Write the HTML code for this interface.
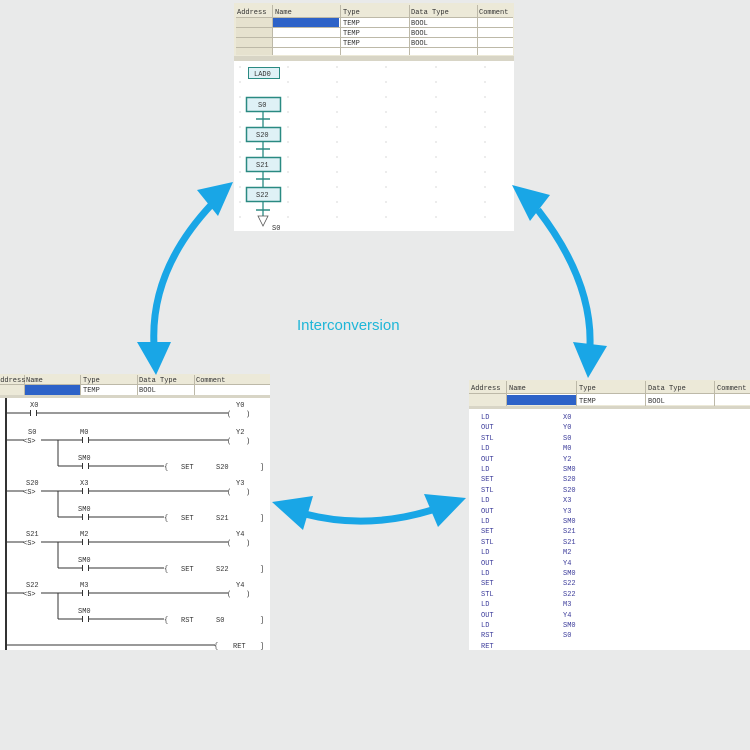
<!DOCTYPE html>
<html><head><meta charset="utf-8"><style>
html,body{margin:0;padding:0;background:#e9eaea;}
svg{display:block}
text{font-family:"Liberation Mono",monospace;font-size:7px;fill:#333;white-space:pre}
.b text{fill:#3b3b9a}
</style></head><body>
<svg width="750" height="750" viewBox="0 0 750 750" xmlns="http://www.w3.org/2000/svg" xml:space="preserve">
<rect width="750" height="750" fill="#e9eaea"/>

<!-- TOP PANEL -->
<rect x="234" y="3" width="280" height="228" fill="#fff"/>
<rect x="234" y="3" width="280" height="56" fill="#ece9d8"/>
<rect x="236" y="17" width="36" height="38" fill="#e6e2cf"/>
<rect x="272" y="17" width="241" height="38" fill="#fff"/>
<rect x="273" y="18" width="66" height="9" fill="#2d62c8"/>
<g stroke="#bdb9a8" stroke-width="1">
<line x1="236" y1="17.5" x2="513" y2="17.5"/><line x1="236" y1="27.5" x2="513" y2="27.5"/><line x1="236" y1="37.5" x2="513" y2="37.5"/><line x1="236" y1="47.5" x2="513" y2="47.5"/>
<line x1="272.5" y1="5" x2="272.5" y2="55"/><line x1="340.5" y1="5" x2="340.5" y2="55"/><line x1="409.5" y1="5" x2="409.5" y2="55"/><line x1="477.5" y1="5" x2="477.5" y2="55"/>
</g>
<rect x="234" y="56" width="280" height="5" fill="#d8d5c6"/>
<rect x="234" y="61" width="280" height="170" fill="#fff"/>
<text x="237" y="14">Address</text><text x="275" y="14">Name</text><text x="343" y="14">Type</text><text x="411" y="14">Data Type</text><text x="479" y="14">Comment</text>
<text x="343" y="25">TEMP</text><text x="411" y="25">BOOL</text>
<text x="343" y="35">TEMP</text><text x="411" y="35">BOOL</text>
<text x="343" y="45">TEMP</text><text x="411" y="45">BOOL</text>
<g fill="#bbb">
<circle cx="240" cy="67" r=".6"/><circle cx="288" cy="67" r=".6"/><circle cx="337" cy="67" r=".6"/><circle cx="386" cy="67" r=".6"/><circle cx="436" cy="67" r=".6"/><circle cx="485" cy="67" r=".6"/>
<circle cx="240" cy="82" r=".6"/><circle cx="288" cy="82" r=".6"/><circle cx="337" cy="82" r=".6"/><circle cx="386" cy="82" r=".6"/><circle cx="436" cy="82" r=".6"/><circle cx="485" cy="82" r=".6"/>
<circle cx="240" cy="97" r=".6"/><circle cx="288" cy="97" r=".6"/><circle cx="337" cy="97" r=".6"/><circle cx="386" cy="97" r=".6"/><circle cx="436" cy="97" r=".6"/><circle cx="485" cy="97" r=".6"/>
<circle cx="240" cy="112" r=".6"/><circle cx="288" cy="112" r=".6"/><circle cx="337" cy="112" r=".6"/><circle cx="386" cy="112" r=".6"/><circle cx="436" cy="112" r=".6"/><circle cx="485" cy="112" r=".6"/>
<circle cx="240" cy="127" r=".6"/><circle cx="288" cy="127" r=".6"/><circle cx="337" cy="127" r=".6"/><circle cx="386" cy="127" r=".6"/><circle cx="436" cy="127" r=".6"/><circle cx="485" cy="127" r=".6"/>
<circle cx="240" cy="142" r=".6"/><circle cx="288" cy="142" r=".6"/><circle cx="337" cy="142" r=".6"/><circle cx="386" cy="142" r=".6"/><circle cx="436" cy="142" r=".6"/><circle cx="485" cy="142" r=".6"/>
<circle cx="240" cy="157" r=".6"/><circle cx="288" cy="157" r=".6"/><circle cx="337" cy="157" r=".6"/><circle cx="386" cy="157" r=".6"/><circle cx="436" cy="157" r=".6"/><circle cx="485" cy="157" r=".6"/>
<circle cx="240" cy="172" r=".6"/><circle cx="288" cy="172" r=".6"/><circle cx="337" cy="172" r=".6"/><circle cx="386" cy="172" r=".6"/><circle cx="436" cy="172" r=".6"/><circle cx="485" cy="172" r=".6"/>
<circle cx="240" cy="187" r=".6"/><circle cx="288" cy="187" r=".6"/><circle cx="337" cy="187" r=".6"/><circle cx="386" cy="187" r=".6"/><circle cx="436" cy="187" r=".6"/><circle cx="485" cy="187" r=".6"/>
<circle cx="240" cy="202" r=".6"/><circle cx="288" cy="202" r=".6"/><circle cx="337" cy="202" r=".6"/><circle cx="386" cy="202" r=".6"/><circle cx="436" cy="202" r=".6"/><circle cx="485" cy="202" r=".6"/>
<circle cx="240" cy="217" r=".6"/><circle cx="288" cy="217" r=".6"/><circle cx="337" cy="217" r=".6"/><circle cx="386" cy="217" r=".6"/><circle cx="436" cy="217" r=".6"/><circle cx="485" cy="217" r=".6"/>
</g>
<g stroke="#2a8a82" fill="#dff1f6">
<rect x="248.5" y="67.5" width="31" height="11" stroke-width="1"/>
<line x1="263" y1="111" x2="263" y2="216" stroke-width="1.3"/>
<rect x="246.5" y="97.5" width="34" height="14" stroke-width="1.5"/>
<rect x="246.5" y="127.5" width="34" height="14" stroke-width="1.5"/>
<rect x="246.5" y="157.5" width="34" height="14" stroke-width="1.5"/>
<rect x="246.5" y="187.5" width="34" height="14" stroke-width="1.5"/>
<line x1="256" y1="119" x2="270" y2="119" stroke-width="1.5"/>
<line x1="256" y1="149" x2="270" y2="149" stroke-width="1.5"/>
<line x1="256" y1="179" x2="270" y2="179" stroke-width="1.5"/>
<line x1="256" y1="210" x2="270" y2="210" stroke-width="1.5"/>
</g>
<path d="M258 216 L268 216 L263 226 Z" fill="#fff" stroke="#555" stroke-width=".8"/>
<text x="254" y="76">LAD0</text><text x="258" y="107">S0</text><text x="256" y="137">S20</text><text x="256" y="167">S21</text><text x="256" y="197">S22</text><text x="272" y="230">S0</text>

<!-- LEFT PANEL -->
<rect x="0" y="374" width="270" height="276" fill="#fff"/>
<rect x="0" y="374" width="270" height="23" fill="#ece9d8"/>
<rect x="25" y="385" width="245" height="10" fill="#fff"/>
<rect x="25" y="385" width="55" height="10" fill="#2d62c8"/>
<g stroke="#bdb9a8"><line x1="0" y1="384.5" x2="270" y2="384.5"/><line x1="24.5" y1="375" x2="24.5" y2="395"/><line x1="80.5" y1="375" x2="80.5" y2="395"/><line x1="137.5" y1="375" x2="137.5" y2="395"/><line x1="194.5" y1="375" x2="194.5" y2="395"/></g>
<rect x="0" y="395" width="270" height="3" fill="#d8d5c6"/>
<text x="-4" y="382">Address</text><text x="26" y="382">Name</text><text x="83" y="382">Type</text><text x="139" y="382">Data Type</text><text x="196" y="382">Comment</text>
<text x="83" y="392">TEMP</text><text x="139" y="392">BOOL</text>
<g stroke="#333" stroke-width="1" fill="none">
<line x1="6" y1="398" x2="6" y2="650" stroke-width="2"/>
<line x1="6" y1="413" x2="30" y2="413"/><line x1="37" y1="413" x2="228" y2="413"/>
<line x1="6" y1="440" x2="24" y2="440"/><line x1="41" y1="440" x2="82" y2="440"/><line x1="89" y1="440" x2="228" y2="440"/>
<line x1="58" y1="440" x2="58" y2="466"/><line x1="58" y1="466" x2="82" y2="466"/><line x1="89" y1="466" x2="164" y2="466"/>
<line x1="6" y1="491" x2="24" y2="491"/><line x1="41" y1="491" x2="82" y2="491"/><line x1="89" y1="491" x2="228" y2="491"/>
<line x1="58" y1="491" x2="58" y2="517"/><line x1="58" y1="517" x2="82" y2="517"/><line x1="89" y1="517" x2="164" y2="517"/>
<line x1="6" y1="542" x2="24" y2="542"/><line x1="41" y1="542" x2="82" y2="542"/><line x1="89" y1="542" x2="228" y2="542"/>
<line x1="58" y1="542" x2="58" y2="568"/><line x1="58" y1="568" x2="82" y2="568"/><line x1="89" y1="568" x2="164" y2="568"/>
<line x1="6" y1="593" x2="24" y2="593"/><line x1="41" y1="593" x2="82" y2="593"/><line x1="89" y1="593" x2="228" y2="593"/>
<line x1="58" y1="593" x2="58" y2="619"/><line x1="58" y1="619" x2="82" y2="619"/><line x1="89" y1="619" x2="164" y2="619"/>
<line x1="6" y1="645" x2="215" y2="645"/>
<!-- contact bars -->
<path d="M30.5 410v6M36.5 410v6M82.5 437v6M88.5 437v6M82.5 463v6M88.5 463v6M82.5 488v6M88.5 488v6M82.5 514v6M88.5 514v6M82.5 539v6M88.5 539v6M82.5 565v6M88.5 565v6M82.5 590v6M88.5 590v6M82.5 616v6M88.5 616v6"/>
</g>
<g font-size="7">
<text x="30" y="407">X0</text><text x="236" y="407">Y0</text><text x="227" y="416">(</text><text x="246" y="416">)</text>
<text x="28" y="434">S0</text><text x="23" y="443">&lt;S&gt;</text><text x="80" y="434">M0</text><text x="236" y="434">Y2</text><text x="227" y="443">(</text><text x="246" y="443">)</text>
<text x="78" y="460">SM0</text><text x="164" y="469">{</text><text x="181" y="469">SET</text><text x="216" y="469">S20</text><text x="260" y="469">]</text>
<text x="26" y="485">S20</text><text x="23" y="494">&lt;S&gt;</text><text x="80" y="485">X3</text><text x="236" y="485">Y3</text><text x="227" y="494">(</text><text x="246" y="494">)</text>
<text x="78" y="511">SM0</text><text x="164" y="520">{</text><text x="181" y="520">SET</text><text x="216" y="520">S21</text><text x="260" y="520">]</text>
<text x="26" y="536">S21</text><text x="23" y="545">&lt;S&gt;</text><text x="80" y="536">M2</text><text x="236" y="536">Y4</text><text x="227" y="545">(</text><text x="246" y="545">)</text>
<text x="78" y="562">SM0</text><text x="164" y="571">{</text><text x="181" y="571">SET</text><text x="216" y="571">S22</text><text x="260" y="571">]</text>
<text x="26" y="587">S22</text><text x="23" y="596">&lt;S&gt;</text><text x="80" y="587">M3</text><text x="236" y="587">Y4</text><text x="227" y="596">(</text><text x="246" y="596">)</text>
<text x="78" y="613">SM0</text><text x="164" y="622">{</text><text x="181" y="622">RST</text><text x="216" y="622">S0</text><text x="260" y="622">]</text>
<text x="214" y="648">{</text><text x="233" y="648">RET</text><text x="260" y="648">]</text>
</g>

<!-- RIGHT PANEL -->
<rect x="469" y="380" width="281" height="270" fill="#fff"/>
<rect x="469" y="380" width="281" height="26" fill="#ece9d8"/>
<rect x="506" y="394" width="244" height="11" fill="#fff"/>
<rect x="507" y="395" width="69" height="10" fill="#2d62c8"/>
<g stroke="#bdb9a8"><line x1="469" y1="393.5" x2="750" y2="393.5"/><line x1="506.5" y1="381" x2="506.5" y2="406"/><line x1="576.5" y1="381" x2="576.5" y2="406"/><line x1="645.5" y1="381" x2="645.5" y2="406"/><line x1="714.5" y1="381" x2="714.5" y2="406"/></g>
<rect x="469" y="406" width="281" height="3" fill="#d8d5c6"/>
<text x="471" y="390">Address</text><text x="509" y="390">Name</text><text x="579" y="390">Type</text><text x="648" y="390">Data Type</text><text x="717" y="390">Comment</text>
<text x="579" y="403">TEMP</text><text x="648" y="403">BOOL</text>
<g class="b">
<text x="481" y="419">LD</text><text x="563" y="419">X0</text>
<text x="481" y="429">OUT</text><text x="563" y="429">Y0</text>
<text x="481" y="440">STL</text><text x="563" y="440">S0</text>
<text x="481" y="450">LD</text><text x="563" y="450">M0</text>
<text x="481" y="461">OUT</text><text x="563" y="461">Y2</text>
<text x="481" y="471">LD</text><text x="563" y="471">SM0</text>
<text x="481" y="481">SET</text><text x="563" y="481">S20</text>
<text x="481" y="492">STL</text><text x="563" y="492">S20</text>
<text x="481" y="502">LD</text><text x="563" y="502">X3</text>
<text x="481" y="513">OUT</text><text x="563" y="513">Y3</text>
<text x="481" y="523">LD</text><text x="563" y="523">SM0</text>
<text x="481" y="533">SET</text><text x="563" y="533">S21</text>
<text x="481" y="544">STL</text><text x="563" y="544">S21</text>
<text x="481" y="554">LD</text><text x="563" y="554">M2</text>
<text x="481" y="565">OUT</text><text x="563" y="565">Y4</text>
<text x="481" y="575">LD</text><text x="563" y="575">SM0</text>
<text x="481" y="585">SET</text><text x="563" y="585">S22</text>
<text x="481" y="596">STL</text><text x="563" y="596">S22</text>
<text x="481" y="606">LD</text><text x="563" y="606">M3</text>
<text x="481" y="617">OUT</text><text x="563" y="617">Y4</text>
<text x="481" y="627">LD</text><text x="563" y="627">SM0</text>
<text x="481" y="637">RST</text><text x="563" y="637">S0</text>
<text x="481" y="648">RET</text>
</g>

<!-- ARROWS -->
<g fill="none" stroke="#19a6e6" stroke-width="7">
<path d="M212 204 Q150 270 154 345"/>
<path d="M538 210 Q592 280 590 345"/>
<path d="M305 514 Q367 530 432 510"/>
</g>
<g fill="#19a6e6">
<path d="M233 182 L197 190 L218 216 Z"/>
<path d="M156 375 L137 342 L171 342 Z"/>
<path d="M512 185 L550 195 L530 221 Z"/>
<path d="M588 378 L573 342 L607 346 Z"/>
<path d="M272 502 L313 496 L303 530 Z"/>
<path d="M466 498 L424 494 L438 527 Z"/>
</g>
<text x="297" y="330" style="font-family:'Liberation Sans',sans-serif;font-size:15px;fill:#1fb6d8">Interconversion</text>
</svg>
</body></html>
